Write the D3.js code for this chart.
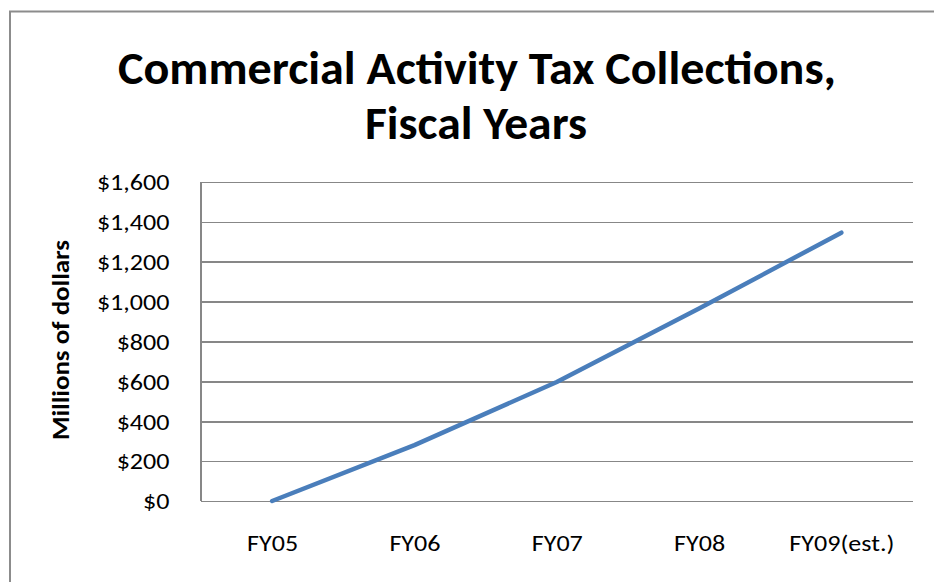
<!DOCTYPE html>
<html>
<head>
<meta charset="utf-8">
<script src="https://cdn.jsdelivr.net/npm/d3@7"></script>
<style>
  html, body { margin: 0; padding: 0; background: #ffffff; }
  svg { display: block; }
</style>
</head>
<body>
<svg id="chart" width="934" height="582"></svg>
<script>
// ---- data ----
const categories = ["FY05", "FY06", "FY07", "FY08", "FY09(est.)"];
const collections = [0, 280, 597, 965, 1346];
const yTicks = [0, 200, 400, 600, 800, 1000, 1200, 1400, 1600];
const titleLines = ["Commercial Activity Tax Collections,", "Fiscal Years"];
const yAxisTitle = "Millions of dollars";

// ---- layout ----
const FONT = "Calibri, Carlito, 'Open Sans', sans-serif";
const plot = { left: 201, right: 912.5, top: 182, bottom: 501 };

const svg = d3.select("#chart");

// outer frame (top and left edges visible)
svg.append("path")
  .attr("d", `M10,582 V11.5 H934`)
  .attr("fill", "none")
  .attr("stroke", "#8c8c8c")
  .attr("stroke-width", 2);

const x = d3.scalePoint().domain(categories).range([plot.left, plot.right]).padding(0.5);
const y = d3.scaleLinear().domain([0, 1600]).range([plot.bottom, plot.top]);

function stretch(sel, k) {
  sel.each(function () {
    const w = this.getComputedTextLength();
    d3.select(this).attr("textLength", w * k).attr("lengthAdjust", "spacingAndGlyphs");
  });
}

// gridlines + y axis
const yAxis = d3.axisLeft(y)
  .tickValues(yTicks)
  .tickSize(-(plot.right - plot.left))
  .tickPadding(31.5)
  .tickFormat(d => "$" + d3.format(",")(d));

const gy = svg.append("g")
  .attr("transform", `translate(${plot.left},0)`)
  .call(yAxis);
gy.select(".domain").remove();
gy.selectAll(".tick line")
  .attr("stroke", "#878787")
  .attr("stroke-width", 1.6)
  .attr("shape-rendering", "crispEdges");
gy.selectAll(".tick text")
  .attr("font-family", FONT)
  .attr("font-size", 23)
  .attr("fill", "#000")
  .attr("dy", "0.34em");
// horizontal stretch measured from the widest tick label
let k = 1;
gy.selectAll(".tick text").filter(d => d === 1600).each(function () {
  k = 72.6 / this.getComputedTextLength();
});
stretch(gy.selectAll(".tick text"), k);

// left axis line
svg.append("line")
  .attr("x1", plot.left).attr("x2", plot.left)
  .attr("y1", plot.top).attr("y2", plot.bottom)
  .attr("stroke", "#878787").attr("stroke-width", 1.6)
  .attr("shape-rendering", "crispEdges");

// x axis labels
const xAxis = d3.axisBottom(x).tickSize(0).tickPadding(0);
const gx = svg.append("g")
  .attr("transform", `translate(0,${plot.bottom})`)
  .call(xAxis);
gx.select(".domain").remove();
gx.selectAll(".tick text")
  .attr("font-family", FONT)
  .attr("font-size", 23)
  .attr("fill", "#000")
  .attr("y", 50)
  .attr("dy", 0);
stretch(gx.selectAll(".tick text"), k);

// line series
const line = d3.line()
  .x((d, i) => x(categories[i]))
  .y(d => y(d));
svg.append("path")
  .datum(collections)
  .attr("d", line)
  .attr("fill", "none")
  .attr("stroke", "#4a7ebb")
  .attr("stroke-width", 4.5)
  .attr("stroke-linecap", "round")
  .attr("stroke-linejoin", "round");

// title
const titleTargets = [
  { cx: 477, y: 84, w: 718 },
  { cx: 476, y: 139, w: 222 }
];
titleLines.forEach((t, i) => {
  svg.append("text")
    .attr("x", titleTargets[i].cx)
    .attr("y", titleTargets[i].y)
    .attr("text-anchor", "middle")
    .attr("font-family", FONT)
    .attr("font-weight", "bold")
    .attr("font-size", 47)
    .attr("fill", "#000")
    .attr("textLength", titleTargets[i].w)
    .attr("lengthAdjust", "spacingAndGlyphs")
    .text(t);
});

// y axis title
svg.append("text")
  .attr("transform", `translate(69,340) scale(${k},1) rotate(-90)`)
  .attr("text-anchor", "middle")
  .attr("font-family", FONT)
  .attr("font-weight", "bold")
  .attr("font-size", 22)
  .attr("fill", "#000")
  .attr("textLength", 200)
  .attr("lengthAdjust", "spacingAndGlyphs")
  .text(yAxisTitle);
</script>
</body>
</html>
